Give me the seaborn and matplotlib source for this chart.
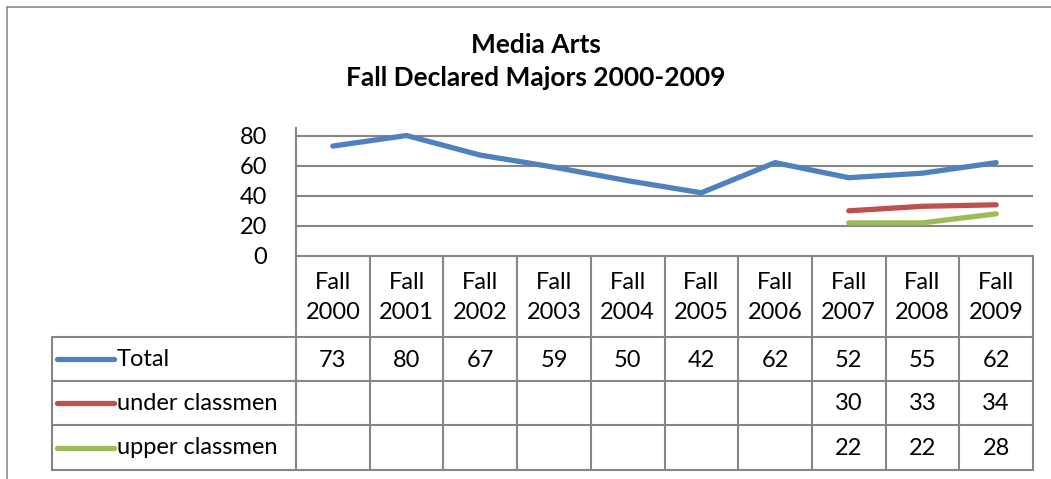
import numpy as np
import pandas as pd
import matplotlib
matplotlib.use("Agg")
import matplotlib.pyplot as plt
import seaborn as sns

# Chart data
years = ["Fall\n2000", "Fall\n2001", "Fall\n2002", "Fall\n2003", "Fall\n2004",
         "Fall\n2005", "Fall\n2006", "Fall\n2007", "Fall\n2008", "Fall\n2009"]
series_names = ["Total", "under classmen", "upper classmen"]
total = [73, 80, 67, 59, 50, 42, 62, 52, 55, 62]
under_classmen = [np.nan] * 7 + [30, 33, 34]
upper_classmen = [np.nan] * 7 + [22, 22, 28]
y_ticks = [0, 20, 40, 60, 80]

colors = {"Total": "#4F81BD", "under classmen": "#C0504D", "upper classmen": "#9BBB59"}
grid_color = "#868686"
FS = 17

sns.set_theme(style="white")
plt.rcParams["font.family"] = ["Lato", "DejaVu Sans"]

W, H = 1051, 479
fig = plt.figure(figsize=(W / 100, H / 100), dpi=100)


def fx(px):
    return px / W


def fy(py):
    return 1 - py / H


# long-form table for seaborn
df = pd.DataFrame({
    "pos": np.tile(np.arange(len(years)), 3),
    "value": total + under_classmen + upper_classmen,
    "series": np.repeat(series_names, len(years)),
})

# plot area
left, right, top, bottom = 296, 1033, 128, 256
ax = fig.add_axes([fx(left), fy(bottom), fx(right - left), (bottom - top) / H])
sns.lineplot(data=df.dropna(), x="pos", y="value", hue="series", palette=colors,
             linewidth=3.8, solid_capstyle="round", legend=False, ax=ax)
ax.set_xlim(-0.5, len(years) - 0.5)
ax.set_ylim(0, 85)
ax.set_yticks(y_ticks)
ax.set_yticklabels([str(t) for t in y_ticks], fontsize=FS, color="black")
ax.tick_params(axis="y", length=0, pad=21)
ax.set_xticks([])
ax.set_xlabel("")
ax.set_ylabel("")
for t in y_ticks[1:]:
    ax.axhline(t, color=grid_color, lw=1.5, zorder=0)
for side in ["top", "right", "bottom"]:
    ax.spines[side].set_visible(False)
ax.spines["left"].set_color(grid_color)
ax.spines["left"].set_linewidth(1.5)

# data table under the plot
col_w = (right - left) / len(years)
tab_left, tab_bottom = 52, 470
label_w = (left - tab_left) / col_w
row_edges = [0, 81, 125, 169, 214]  # pixel offsets below the axis
tax = fig.add_axes([fx(tab_left), fy(tab_bottom), fx(right - tab_left), (tab_bottom - bottom) / H])
tax.set_xlim(-0.5 - label_w, len(years) - 0.5)
tax.set_ylim(row_edges[-1], 0)
tax.axis("off")

lw = 1.5
x0 = -0.5 - label_w
xe = len(years) - 0.5
for i in range(len(years) + 1):
    tax.plot([i - 0.5, i - 0.5], [0, row_edges[-1]], color=grid_color, lw=lw, clip_on=False)
tax.plot([x0, x0], [row_edges[1], row_edges[-1]], color=grid_color, lw=lw, clip_on=False)
tax.plot([-0.5, xe], [0, 0], color=grid_color, lw=lw, clip_on=False)
for r in row_edges[1:]:
    tax.plot([x0, xe], [r, r], color=grid_color, lw=lw, clip_on=False)

for i, lab in enumerate(years):
    tax.text(i, (row_edges[0] + row_edges[1]) / 2 + 1, lab, ha="center", va="center",
             fontsize=FS, linespacing=1.5, color="black")

rows = [total, under_classmen, upper_classmen]
for r, (name, vals) in enumerate(zip(series_names, rows)):
    yc = (row_edges[r + 1] + row_edges[r + 2]) / 2
    tax.plot([x0 + 5 / col_w, x0 + 62 / col_w], [yc, yc], color=colors[name],
             lw=3.8, solid_capstyle="round", clip_on=False)
    tax.text(x0 + 65 / col_w, yc, name, ha="left", va="center", fontsize=FS, color="black")
    for i, v in enumerate(vals):
        if not np.isnan(v):
            tax.text(i, yc + 1, f"{int(v)}", ha="center", va="center", fontsize=FS, color="black")

# title
fig.text(fx(536), fy(45), "Media Arts", ha="center", va="center",
         fontsize=19, fontweight="bold", color="black")
fig.text(fx(536), fy(78), "Fall Declared Majors 2000-2009", ha="center", va="center",
         fontsize=19, fontweight="bold", color="black")

# outer chart frame
fig.add_artist(plt.Line2D([fx(7), fx(7)], [fy(7), 0], color="#8c8c8c", lw=1.2))
fig.add_artist(plt.Line2D([fx(7), 1], [fy(7), fy(7)], color="#8c8c8c", lw=1.2))

fig.savefig("out.png", dpi=100)
